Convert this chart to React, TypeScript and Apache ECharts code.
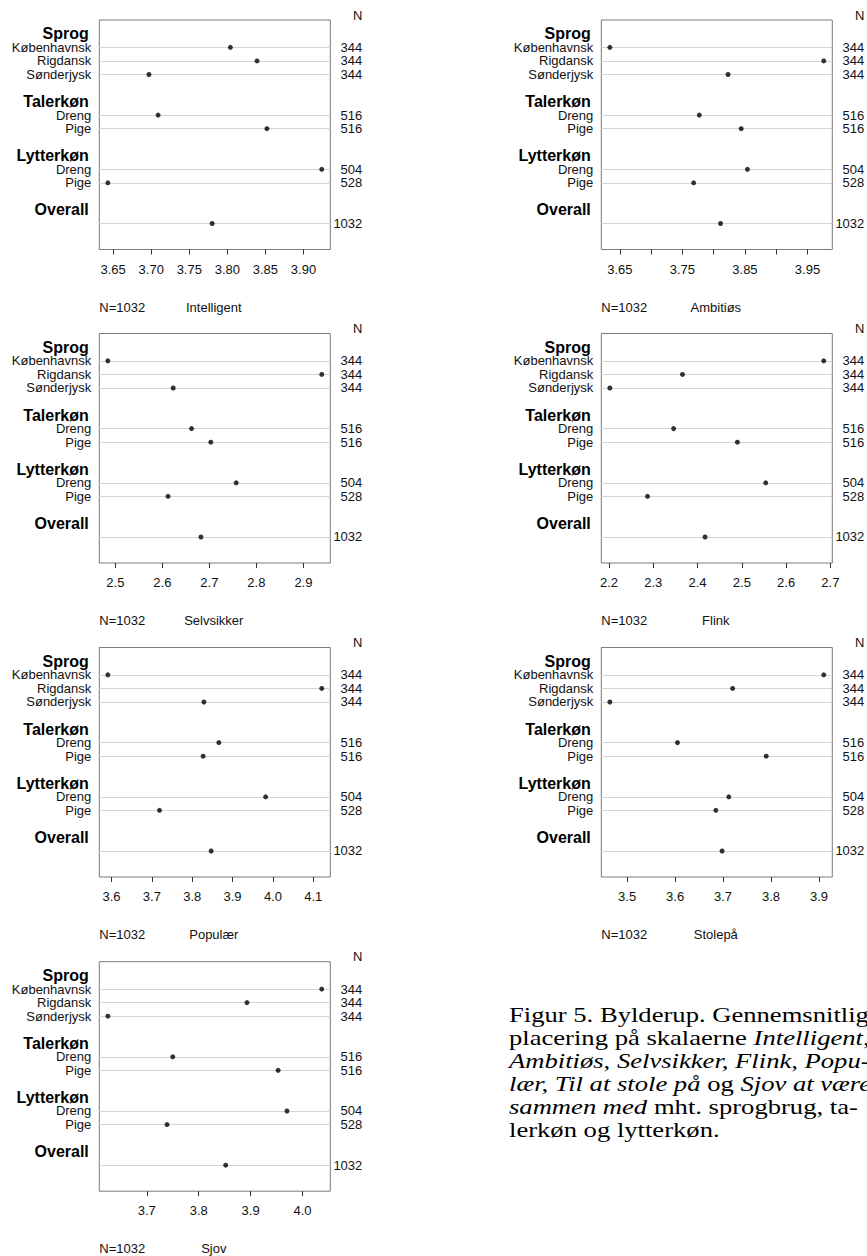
import React, { useEffect, useRef } from "react";
import * as echarts from "echarts";

// ---- data ----
const groupHeaders = ["Sprog", "Talerkøn", "Lytterkøn", "Overall"];
const headerSlots = [15, 10, 6, 2];
const rowLabels = ["Københavnsk", "Rigdansk", "Sønderjysk", "Dreng", "Pige", "Dreng", "Pige", ""];
const rowSlots = [14, 13, 12, 9, 8, 5, 4, 1];
const nValues = [344, 344, 344, 516, 516, 504, 528, 1032];

const traits = ["Intelligent", "Ambitiøs", "Selvsikker", "Flink", "Populær", "Stolepå", "Sjov"];

const intelligent = [3.804, 3.839, 3.697, 3.709, 3.852, 3.924, 3.643, 3.780];
const ambitios = [3.634, 3.976, 3.823, 3.777, 3.844, 3.854, 3.768, 3.811];
const selvsikker = [2.484, 2.939, 2.623, 2.662, 2.703, 2.757, 2.612, 2.682];
const flink = [2.685, 2.366, 2.202, 2.346, 2.490, 2.554, 2.287, 2.417];
const populaer = [3.591, 4.121, 3.829, 3.866, 3.827, 3.982, 3.719, 3.847];
const stolepaa = [3.910, 3.720, 3.464, 3.605, 3.790, 3.712, 3.685, 3.698];
const sjov = [4.037, 3.893, 3.625, 3.750, 3.953, 3.970, 3.739, 3.852];

const ticksIntelligent = [3.65, 3.70, 3.75, 3.80, 3.85, 3.90];
const labelsIntelligent = [3.65, 3.70, 3.75, 3.80, 3.85, 3.90];
const ticksAmbitios = [3.65, 3.70, 3.75, 3.80, 3.85, 3.90, 3.95];
const labelsAmbitios = [3.65, 3.75, 3.85, 3.95];
const ticksSelvsikker = [2.5, 2.6, 2.7, 2.8, 2.9];
const ticksFlink = [2.2, 2.3, 2.4, 2.5, 2.6, 2.7];
const ticksPopulaer = [3.6, 3.7, 3.8, 3.9, 4.0, 4.1];
const ticksStolepaa = [3.5, 3.6, 3.7, 3.8, 3.9];
const ticksSjov = [3.7, 3.8, 3.9, 4.0];

const captionLines = [
  "Figur 5. Bylderup. Gennemsnitlig",
  "placering på skalaerne {i|Intelligent,}",
  "{i|Ambitiøs, Selvsikker, Flink, Popu-}",
  "{i|lær, Til at stole på} og {i|Sjov at være}",
  "{i|sammen med} mht. sprogbrug, ta-",
  "lerkøn og lytterkøn.",
];

const panels = [
  { values: intelligent, ticks: ticksIntelligent, labels: labelsIntelligent, dec: 2 },
  { values: ambitios, ticks: ticksAmbitios, labels: labelsAmbitios, dec: 2 },
  { values: selvsikker, ticks: ticksSelvsikker, labels: ticksSelvsikker, dec: 1 },
  { values: flink, ticks: ticksFlink, labels: ticksFlink, dec: 1 },
  { values: populaer, ticks: ticksPopulaer, labels: ticksPopulaer, dec: 1 },
  { values: stolepaa, ticks: ticksStolepaa, labels: ticksStolepaa, dec: 1 },
  { values: sjov, ticks: ticksSjov, labels: ticksSjov, dec: 1 },
];

const SANS = "'Liberation Sans', Arial, Helvetica, sans-serif";
const SERIF = "'Liberation Serif', 'Times New Roman', serif";

const COL_LEFT = [99.3, 601.3];
const ROW_TOP = [20, 333.5, 647.5, 961.7];
const GRID_W = 231;
const GRID_H = 229.5;
const Y_MIN = -0.92;
const Y_MAX = 16.02;

function buildOption() {
  const grid: any[] = [];
  const xAxis: any[] = [];
  const yAxis: any[] = [];
  const series: any[] = [];
  const graphic: any[] = [];

  const leftValues = [...rowSlots.filter((_, i) => rowLabels[i] !== ""), ...headerSlots];

  panels.forEach((p, i) => {
    const col = i % 2;
    const row = Math.floor(i / 2);
    const left = COL_LEFT[col];
    const top = ROW_TOP[row];
    const dmin = Math.min(...p.values);
    const dmax = Math.max(...p.values);
    const ext = (dmax - dmin) * 0.04;

    grid.push({
      left,
      top,
      width: GRID_W,
      height: GRID_H,
      show: true,
      borderColor: "#7a7a7a",
      borderWidth: 1,
      backgroundColor: "transparent",
      containLabel: false,
      outerBoundsMode: "none",
    });

    xAxis.push({
      type: "value",
      gridIndex: i,
      position: "bottom",
      min: dmin - ext,
      max: dmax + ext,
      axisLine: { show: false, onZero: false },
      splitLine: { show: false },
      axisTick: {
        show: true,
        inside: false,
        customValues: p.ticks,
        length: 5,
        lineStyle: { color: "#333", width: 1 },
      },
      axisLabel: {
        show: true,
        customValues: p.labels,
        formatter: (v: number) => v.toFixed(p.dec),
        fontFamily: SANS,
        fontSize: 13,
        color: "#111",
        margin: 13,
      },
    });

    yAxis.push({
      type: "value",
      gridIndex: i,
      min: Y_MIN,
      max: Y_MAX,
      position: "left",
      axisLine: { show: false, onZero: false },
      axisTick: { show: false },
      splitLine: { show: false },
      axisLabel: {
        show: true,
        customValues: leftValues,
        margin: 8,
        fontFamily: SANS,
        fontSize: 13,
        color: "#111",
        formatter: (v: number) => {
          const h = headerSlots.findIndex((s) => Math.abs(s - v) < 0.01);
          if (h >= 0) return "{h|" + groupHeaders[h] + "}";
          const r = rowSlots.findIndex((s) => Math.abs(s - v) < 0.01);
          return r >= 0 ? rowLabels[r] : "";
        },
        rich: {
          h: {
            fontFamily: SANS,
            fontSize: 16,
            fontWeight: "bold",
            color: "#000",
            padding: [0, 2.5, 0, 0],
          },
        },
      },
    });

    yAxis.push({
      type: "value",
      gridIndex: i,
      min: Y_MIN,
      max: Y_MAX,
      position: "right",
      axisLine: { show: false, onZero: false },
      axisTick: { show: false },
      splitLine: { show: false },
      axisLabel: {
        show: true,
        customValues: rowSlots,
        margin: 32,
        align: "right",
        fontFamily: SANS,
        fontSize: 13,
        color: "#111",
        formatter: (v: number) => {
          const r = rowSlots.findIndex((s) => Math.abs(s - v) < 0.01);
          return r >= 0 ? String(nValues[r]) : "";
        },
      },
    });

    // grid lines
    series.push({
      type: "scatter",
      xAxisIndex: i,
      yAxisIndex: i * 2,
      data: [],
      z: 1,
      silent: true,
      markLine: {
        silent: true,
        symbol: ["none", "none"],
        label: { show: false },
        lineStyle: { color: "#d4d4d4", type: "solid", width: 1 },
        emphasis: { disabled: true },
        data: rowSlots.map((s) => ({ yAxis: s })),
      },
    });

    // dots
    series.push({
      type: "scatter",
      xAxisIndex: i,
      yAxisIndex: i * 2,
      symbol: "circle",
      symbolSize: 5,
      z: 5,
      itemStyle: { color: "#000" },
      data: p.values.map((v, k) => [v, rowSlots[k]]),
    });

    graphic.push({
      type: "text",
      x: left + GRID_W + 32,
      y: top - 5,
      style: {
        text: "N",
        fontFamily: SANS,
        fontSize: 13,
        fill: "#111",
        align: "right",
        verticalAlign: "middle",
      },
    });
    graphic.push({
      type: "text",
      x: left,
      y: top + 287,
      style: {
        text: "N=" + nValues[nValues.length - 1],
        fontFamily: SANS,
        fontSize: 13,
        fill: "#111",
        align: "left",
        verticalAlign: "middle",
      },
    });
    graphic.push({
      type: "text",
      x: left + 114.5,
      y: top + 287,
      style: {
        text: traits[i],
        fontFamily: SANS,
        fontSize: 13,
        fill: "#111",
        align: "center",
        verticalAlign: "middle",
      },
    });
  });

  graphic.push({
    type: "text",
    x: 509,
    y: 1002.5,
    scaleX: 1.21,
    style: {
      text: captionLines.join("\n"),
      fontFamily: SERIF,
      fontSize: 22,
      lineHeight: 23,
      fill: "#000",
      align: "left",
      verticalAlign: "top",
      rich: {
        i: { fontFamily: SERIF, fontSize: 22, fontStyle: "italic", lineHeight: 23, fill: "#000" },
      },
    },
  });

  return {
    animation: false,
    backgroundColor: "#fff",
    tooltip: { show: false },
    grid,
    xAxis,
    yAxis,
    series,
    graphic,
  };
}

export default function App() {
  const ref = useRef<HTMLDivElement>(null);
  useEffect(() => {
    if (!ref.current) return;
    const chart = echarts.init(ref.current, undefined, { renderer: "svg" });
    chart.setOption(buildOption() as any);
    return () => chart.dispose();
  }, []);
  return (
    <div
      ref={ref}
      style={{ position: "absolute", left: 0, top: 0, width: 867, height: 1256, overflow: "hidden", background: "#fff" }}
    />
  );
}
